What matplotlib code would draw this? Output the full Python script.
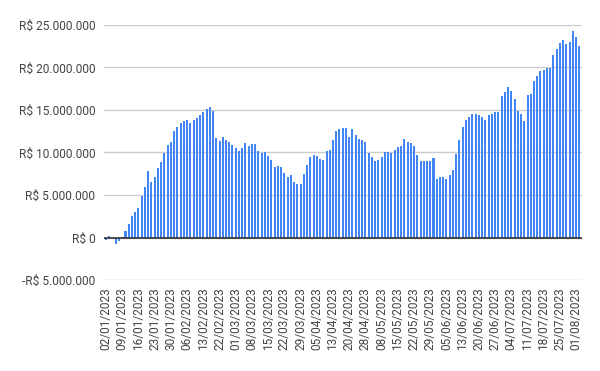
import matplotlib
matplotlib.use("Agg")
import matplotlib.pyplot as plt
import matplotlib.ticker as mticker
import numpy as np
import pandas as pd

holidays = ["2023-02-20", "2023-02-21", "2023-04-07", "2023-04-21",
            "2023-05-01", "2023-06-08"]
dates = pd.bdate_range("2023-01-02", "2023-08-02", freq="C", holidays=holidays)

# values in millions of R$
values_m = [
    -0.28, 0.24, 0.0, -0.80, -0.43, 0.02, 0.83, 1.54, 2.48, 2.95,
    3.43, 4.92, 5.98, 7.80, 6.50, 7.17, 8.15, 8.86, 9.92, 10.87,
    11.22, 12.52, 12.99, 13.46, 13.66, 13.82, 13.46, 13.82, 14.06, 14.41,
    14.76, 15.12, 15.35, 14.88, 11.69, 11.34, 11.81, 11.46, 11.22, 10.87,
    10.51, 10.16, 10.51, 11.10, 10.75, 10.98, 10.98, 10.16, 9.92, 10.04,
    9.57, 9.09, 8.27, 8.39, 8.27, 7.56, 7.09, 7.32, 6.50, 6.26,
    6.26, 7.44, 8.50, 9.45, 9.69, 9.57, 9.21, 9.09, 10.16, 10.28,
    11.46, 12.52, 12.76, 12.87, 12.87, 11.81, 12.76, 12.05, 11.57, 11.46,
    11.22, 9.92, 9.45, 8.98, 9.09, 9.45, 10.04, 10.04, 9.92, 10.28,
    10.63, 10.75, 11.57, 11.22, 11.10, 10.75, 9.69, 8.98, 8.98, 8.98,
    8.98, 9.33, 6.85, 7.09, 7.09, 6.85, 7.32, 7.91, 9.82, 11.48,
    13.01, 13.86, 14.21, 14.57, 14.57, 14.45, 14.21, 13.86, 14.45, 14.57,
    14.80, 14.80, 16.69, 17.05, 17.64, 17.17, 16.34, 14.92, 14.57, 13.74,
    16.81, 16.93, 18.46, 18.94, 19.53, 19.65, 19.88, 19.88, 21.42, 22.13,
    22.83, 23.19, 22.72, 22.95, 24.25, 23.54, 22.48,
]
values = np.array(values_m) * 1e6
tick_labels = [d.strftime("%d/%m/%Y") for d in dates[::5]]

plt.rcParams["font.family"] = ["Roboto", "DejaVu Sans"]

fig = plt.figure(figsize=(6.0, 3.71), dpi=100)
ax = fig.add_axes([0.1727, 0.245, 0.797, 0.688])

x = np.arange(len(values))
ax.bar(x, values, width=0.62, color="#4285F4", zorder=3)

ax.set_xlim(-0.75, len(values) - 0.25)
ax.set_ylim(-5e6, 25e6)
ax.set_yticks(np.arange(-5e6, 25e6 + 1, 5e6))


def fmt(v, pos):
    s = f"{abs(v):,.0f}".replace(",", ".")
    return ("-R$ " if v < 0 else "R$ ") + s


ax.yaxis.set_major_formatter(mticker.FuncFormatter(fmt))
ax.set_xticks(x[::5])
ax.set_xticklabels(tick_labels, rotation=90)

ax.grid(axis="y", color="#cccccc", linewidth=1, zorder=0)
ax.axhline(0, color="#333333", linewidth=1.2, zorder=4)
for s in ax.spines.values():
    s.set_visible(False)
ax.tick_params(axis="both", length=0, colors="#444444", labelsize=8.6)
ax.tick_params(axis="y", pad=6)
ax.tick_params(axis="x", pad=5)

fig.savefig("out.png", dpi=100)
